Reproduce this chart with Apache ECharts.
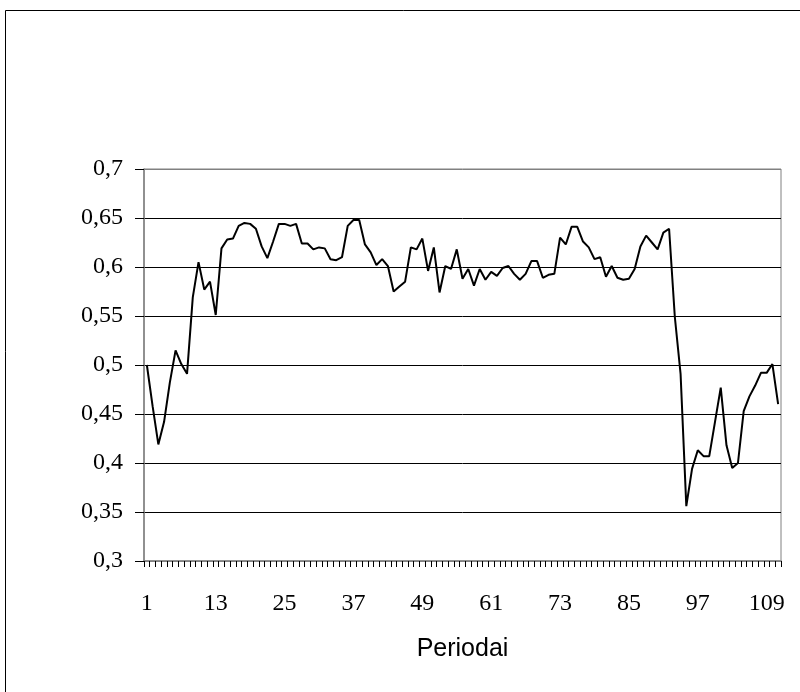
<!DOCTYPE html>
<html>
<head>
<meta charset="utf-8">
<script src="https://cdn.jsdelivr.net/npm/echarts@6/dist/echarts.min.js"></script>
<style>
html,body{margin:0;padding:0;background:#fff;}
#chart{width:800px;height:692px;}
</style>
</head>
<body>
<div id="chart"></div>
<script>
const periods = [1,2,3,4,5,6,7,8,9,10,11,12,13,14,15,16,17,18,19,20,
  21,22,23,24,25,26,27,28,29,30,31,32,33,34,35,36,37,38,39,40,
  41,42,43,44,45,46,47,48,49,50,51,52,53,54,55,56,57,58,59,60,
  61,62,63,64,65,66,67,68,69,70,71,72,73,74,75,76,77,78,79,80,
  81,82,83,84,85,86,87,88,89,90,91,92,93,94,95,96,97,98,99,100,
  101,102,103,104,105,106,107,108,109,110,111];

const values = [
  0.500,0.458,0.419,0.442,0.482,0.515,0.501,0.491,0.569,0.605,
  0.577,0.585,0.551,0.619,0.628,0.629,0.642,0.645,0.644,0.639,
  0.621,0.609,0.626,0.644,0.644,0.642,0.644,0.624,0.624,0.618,
  0.620,0.619,0.608,0.607,0.610,0.642,0.648,0.648,0.623,0.615,
  0.602,0.608,0.601,0.575,0.580,0.585,0.620,0.618,0.629,0.596,
  0.620,0.574,0.601,0.598,0.618,0.588,0.598,0.581,0.598,0.587,
  0.595,0.591,0.599,0.601,0.593,0.587,0.593,0.606,0.606,0.589,
  0.592,0.593,0.630,0.623,0.641,0.641,0.626,0.620,0.608,0.610,
  0.590,0.601,0.589,0.587,0.588,0.598,0.621,0.632,0.625,0.618,
  0.635,0.639,0.549,0.491,0.356,0.394,0.413,0.407,0.407,0.442,
  0.477,0.418,0.395,0.400,0.453,0.468,0.479,0.492,0.492,0.501,
  0.460];

const yMin = 0.3, yMax = 0.7, yStep = 0.05;
const xAxisTitle = 'Periodai';

const chart = echarts.init(document.getElementById('chart'), null, {renderer: 'canvas'});
chart.setOption({
  backgroundColor: '#fff',
  animation: false,
  graphic: [{
    type: 'rect',
    shape: {x: 5.5, y: 10.5, width: 900, height: 900},
    style: {fill: 'none', stroke: '#000', lineWidth: 1},
    silent: true
  }],
  grid: {
    left: 144, right: 19, top: 169, bottom: 131,
    show: true, borderColor: '#808080', borderWidth: 1, backgroundColor: 'transparent'
  },
  xAxis: {
    type: 'category',
    data: periods,
    boundaryGap: true,
    name: xAxisTitle,
    nameLocation: 'middle',
    nameGap: 76,
    nameTextStyle: {fontFamily: 'Liberation Sans', fontSize: 25, color: '#000'},
    axisLine: {lineStyle: {color: '#808080', width: 1.5}},
    axisTick: {show: true, interval: 0, length: 6, lineStyle: {color: '#000', width: 1}},
    axisLabel: {
      interval: 11,
      margin: 31,
      fontFamily: 'Liberation Serif',
      fontSize: 24,
      color: '#000'
    },
    splitLine: {show: false}
  },
  yAxis: {
    type: 'value',
    min: yMin, max: yMax, interval: yStep,
    axisLine: {show: true, lineStyle: {color: '#808080', width: 1.5}},
    axisTick: {show: true, length: 9, lineStyle: {color: '#000', width: 1}},
    axisLabel: {
      margin: 21,
      align: 'right',
      fontFamily: 'Liberation Serif',
      fontSize: 24,
      color: '#000',
      formatter: v => String(+(+v).toFixed(2)).replace('.', ',')
    },
    splitLine: {
      show: true,
      lineStyle: {
        color: ['#808080','#000','#000','#000','#000','#000','#000','#000','#808080'],
        width: 1
      }
    }
  },
  series: [{
    type: 'line',
    data: values,
    showSymbol: false,
    symbol: 'none',
    lineStyle: {color: '#000', width: 2},
    itemStyle: {color: '#000'}
  }]
});
</script>
</body>
</html>
